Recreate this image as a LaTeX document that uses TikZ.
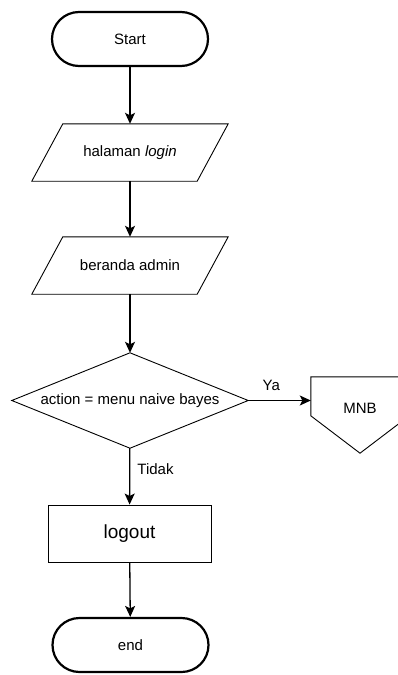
\documentclass[tikz,border=0pt]{standalone}
\usepackage{fontspec}
\setmainfont{Liberation Sans}
\usetikzlibrary{arrows.meta,calc}
\begin{document}
\begin{tikzpicture}[x=1pt,y=-1pt,
  every node/.style={font=\fontsize{15}{18}\selectfont, inner sep=0pt, align=center},
  term/.style={draw, line width=2.2pt, rounded corners=27pt, minimum width=156pt, minimum height=54pt},
  iobox/.style={minimum width=165pt, minimum height=57pt},
  decbox/.style={minimum width=236pt, minimum height=95pt},
  procbox/.style={draw, line width=0.9pt, minimum width=163pt, minimum height=57pt},
  offbox/.style={minimum width=98pt, minimum height=62pt},
  shp/.style={draw, line width=0.9pt, line join=miter},
  arr/.style={line width=1.3pt, -{Stealth[length=11pt,width=10pt,inset=2.5pt]}},
  lbl/.style={font=\fontsize{15}{18}\selectfont}
]
\useasboundingbox (0,0) rectangle (398,675);
\clip (0,0) rectangle (398,675);

\node[term] (start) at (130,39) {Start};
\node[iobox] (p1) at (130,152.5) {halaman \textit{login}};
\node[iobox] (p2) at (130,265.5) {beranda admin};
\node[decbox] (dec) at (130,400.5) {action = menu naive bayes};
\node[offbox] (mnb) at (360,408) {MNB};
\node[procbox, font=\fontsize{19}{22}\selectfont] (lo) at (129.5,533.5) {logout};
\node[term] (end) at (130.5,645) {end};

\foreach \p in {p1,p2}{
  \draw[shp] ($(\p.north west)+(15.5,0)$) -- ($(\p.north east)+(15.5,0)$)
    -- ($(\p.south east)+(-15.5,0)$) -- ($(\p.south west)+(-15.5,0)$) -- cycle;
}
\draw[shp] (dec.north) -- (dec.east) -- (dec.south) -- (dec.west) -- cycle;
\draw[shp] (mnb.north west) -- (mnb.north east) -- ($(mnb.north east)+(0,39)$)
  -- ($(mnb.south)+(0,14)$) -- ($(mnb.north west)+(0,39)$) -- cycle;

\draw[arr] (start) -- (p1);
\draw[arr] (p1) -- (p2);
\draw[arr] (p2) -- (dec);
\draw[arr] (dec.east) -- (dec.east -| mnb.west) node[lbl, pos=0.37, above=9pt] (ya) {Ya};
\draw[arr] (dec) -- (lo) node[lbl, pos=0.37, right=7pt] (tidak) {Tidak};
\draw[arr] (lo) -- (end);
\end{tikzpicture}
\end{document}
